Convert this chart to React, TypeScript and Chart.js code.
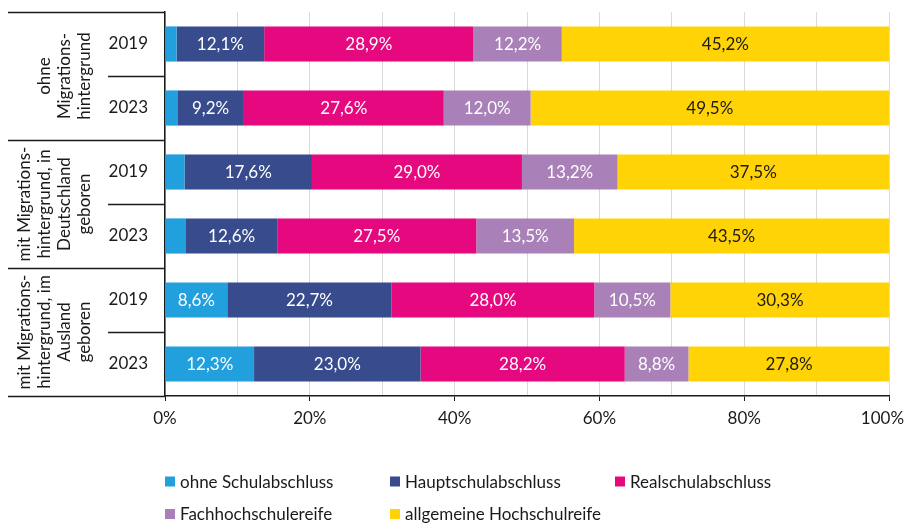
import React, { useEffect, useRef } from "react";
import { Chart, registerables } from "chart.js";

Chart.register(...registerables);

const years = ["2019", "2023", "2019", "2023", "2019", "2023"];
const groupLabels = [
  ["ohne", "Migrations-", "hintergrund"],
  ["mit Migrations-", "hintergrund, in", "Deutschland", "geboren"],
  ["mit Migrations-", "hintergrund, im", "Ausland", "geboren"],
];
const seriesNames = [
  "ohne Schulabschluss",
  "Hauptschulabschluss",
  "Realschulabschluss",
  "Fachhochschulereife",
  "allgemeine Hochschulreife",
];
const ohneSchulabschluss = [1.6, 1.7, 2.7, 2.9, 8.6, 12.3];
const hauptschulabschluss = [12.1, 9.2, 17.6, 12.6, 22.7, 23.0];
const realschulabschluss = [28.9, 27.6, 29.0, 27.5, 28.0, 28.2];
const fachhochschulreife = [12.2, 12.0, 13.2, 13.5, 10.5, 8.8];
const hochschulreife = [45.2, 49.5, 37.5, 43.5, 30.3, 27.8];
const colors = ["#229FDD", "#374B8D", "#E5087E", "#A980B8", "#FFD305"];
const labelColors = ["#ffffff", "#ffffff", "#ffffff", "#ffffff", "#1a1a1a"];

const FONT = "Lato, 'Noto Sans', sans-serif";
const FS = 17;

const overlay = {
  id: "overlay",
  afterDatasetsDraw(chart: any) {
    const ctx = chart.ctx;
    ctx.save();
    ctx.font = `${FS}px ${FONT}`;
    ctx.textAlign = "center";
    ctx.textBaseline = "middle";
    chart.data.datasets.forEach((ds: any, di: number) => {
      const meta = chart.getDatasetMeta(di);
      meta.data.forEach((el: any, i: number) => {
        const v = ds.data[i];
        if (v < 5) return;
        const x = (el.x + el.base) / 2;
        ctx.fillStyle = labelColors[di];
        ctx.fillText(v.toFixed(1).replace(".", ",") + "%", x, el.y + 1);
      });
    });
    ctx.restore();
  },
  afterDraw(chart: any) {
    const ctx = chart.ctx;
    const y = chart.scales.y;
    const area = chart.chartArea;
    const left = 8;
    const yearCol = 108;
    const bnd = (k: number) => y.getPixelForValue(k - 0.5);
    ctx.save();
    ctx.strokeStyle = "#1a1a1a";
    ctx.lineWidth = 1.5;
    [0, 2, 4, 6].forEach((k) => {
      const py = Math.round(bnd(k)) + 0.5;
      ctx.beginPath();
      ctx.moveTo(left, py);
      ctx.lineTo(area.left, py);
      ctx.stroke();
    });
    [1, 3, 5].forEach((k) => {
      const py = Math.round(bnd(k)) + 0.5;
      ctx.beginPath();
      ctx.moveTo(yearCol, py);
      ctx.lineTo(area.left, py);
      ctx.stroke();
    });
    ctx.fillStyle = "#1a1a1a";
    ctx.font = `${FS}px ${FONT}`;
    ctx.textAlign = "center";
    ctx.textBaseline = "middle";
    groupLabels.forEach((lines, g) => {
      const cy = (bnd(g * 2) + bnd(g * 2 + 2)) / 2;
      const n = lines.length;
      lines.forEach((line, li) => {
        const x = 85 - (n - 1 - li) * 20;
        ctx.save();
        ctx.translate(x, cy);
        ctx.rotate(-Math.PI / 2);
        ctx.fillText(line, 0, 0);
        ctx.restore();
      });
    });
    const cols = [165, 390, 615];
    const rows = [481.5, 514];
    ctx.textAlign = "left";
    chart.data.datasets.forEach((ds: any, di: number) => {
      const cx = cols[di % 3];
      const cyy = rows[Math.floor(di / 3)];
      ctx.fillStyle = ds.backgroundColor;
      ctx.fillRect(cx, cyy - 5, 10, 10);
      ctx.fillStyle = "#1a1a1a";
      ctx.fillText(ds.label, cx + 15, cyy + 1);
    });
    ctx.restore();
  },
};

export default function App() {
  const ref = useRef<HTMLCanvasElement | null>(null);
  useEffect(() => {
    document.body.style.margin = "0";
    document.body.style.overflow = "hidden";
    const values = [
      ohneSchulabschluss,
      hauptschulabschluss,
      realschulabschluss,
      fachhochschulreife,
      hochschulreife,
    ];
    const chart = new Chart(ref.current as HTMLCanvasElement, {
      type: "bar",
      data: {
        labels: years,
        datasets: values.map((d, i) => ({
          label: seriesNames[i],
          data: d,
          backgroundColor: colors[i],
          borderWidth: 0,
          barPercentage: 0.55,
          categoryPercentage: 1,
        })),
      },
      options: {
        indexAxis: "y",
        animation: false,
        responsive: false,
        maintainAspectRatio: false,
        layout: { padding: { top: 12, right: 17, bottom: 0, left: 0 } },
        plugins: { legend: { display: false }, tooltip: { enabled: false } },
        scales: {
          x: {
            stacked: true,
            min: 0,
            max: 100,
            afterFit: (s: any) => {
              s.height = 128;
              s.paddingLeft = 0;
              s.paddingRight = 0;
            },
            ticks: {
              stepSize: 10,
              autoSkip: false,
              maxRotation: 0,
              padding: 7,
              color: "#1a1a1a",
              font: { family: FONT, size: FS },
              callback: (v: any) =>
                Number(v) % 20 === 0
                  ? Number(v) === 100
                    ? "100%\u00a0\u00a0\u00a0"
                    : v + "%"
                  : "",
            },
            grid: {
              color: "#d9d9d9",
              lineWidth: 1,
              tickLength: 5,
              tickColor: (c: any) =>
                c.tick && c.tick.value % 20 === 0 ? "#1a1a1a" : "rgba(0,0,0,0)",
            },
            border: { display: true, color: "#1a1a1a", width: 1.5 },
          },
          y: {
            stacked: true,
            afterFit: (s: any) => {
              s.width = 165;
              s.paddingTop = 0;
              s.paddingBottom = 0;
            },
            ticks: {
              padding: 17,
              color: "#1a1a1a",
              font: { family: FONT, size: FS },
            },
            grid: { display: false, drawTicks: false },
            border: { display: true, color: "#1a1a1a", width: 1.5 },
          },
        },
      },
      plugins: [overlay],
    });
    return () => chart.destroy();
  }, []);
  return <canvas ref={ref} width={906} height={524} style={{ display: "block" }} />;
}
